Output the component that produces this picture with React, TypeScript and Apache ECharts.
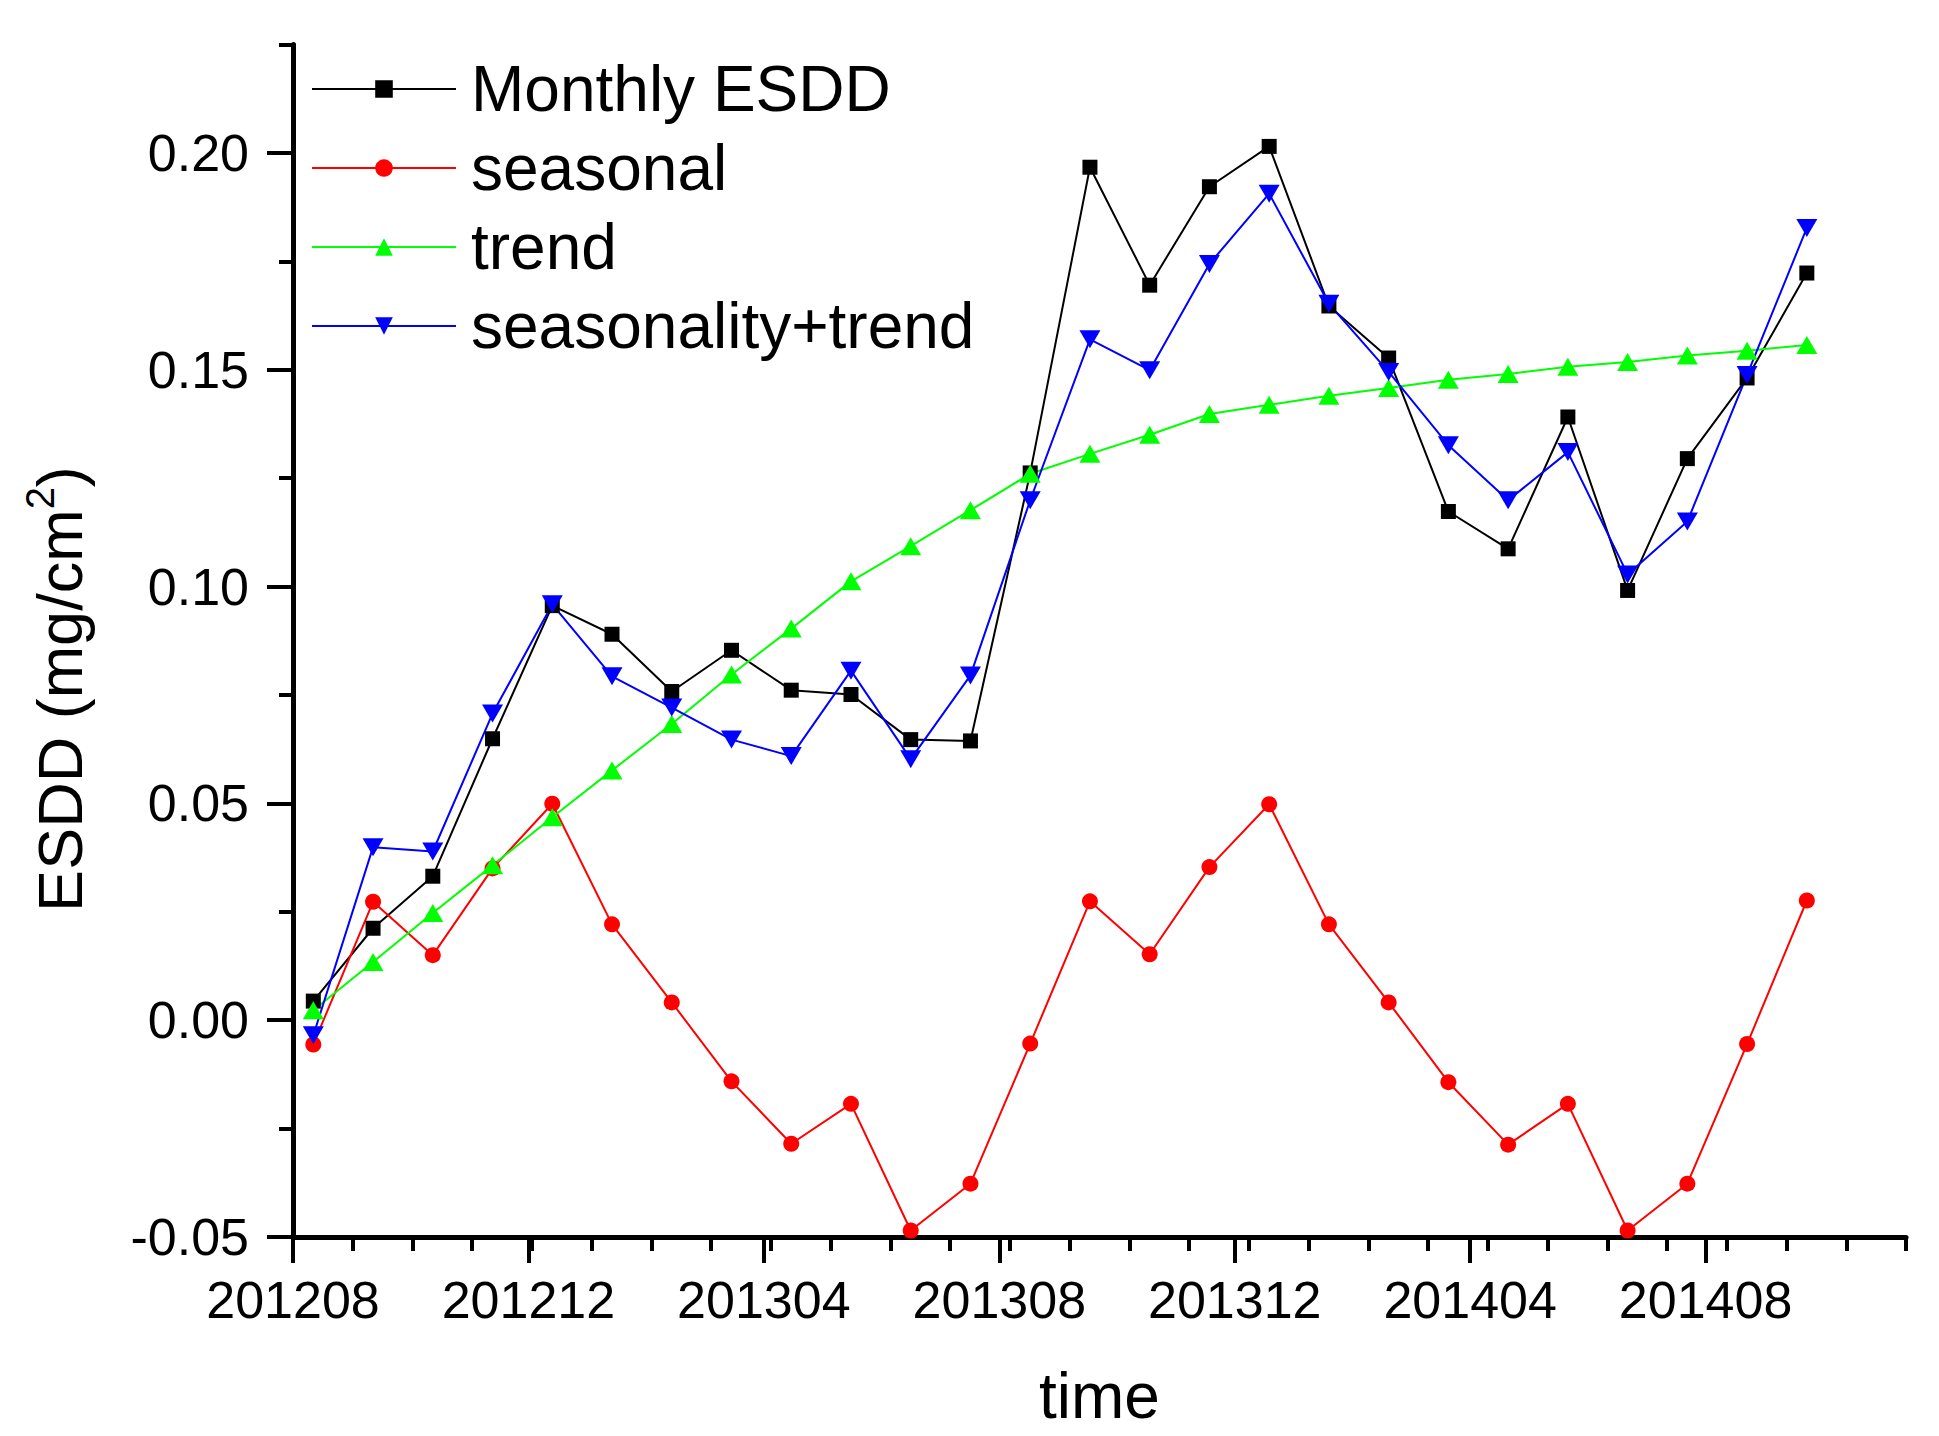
import React, { useEffect, useRef } from 'react';
import * as echarts from 'echarts';

// ---------- data ----------
const MONTHS = [
  '201208', '201209', '201210', '201211', '201212',
  '201301', '201302', '201303', '201304', '201305', '201306', '201307', '201308', '201309', '201310', '201311', '201312',
  '201401', '201402', '201403', '201404', '201405', '201406', '201407', '201408', '201409',
];
const TICK_LABELS = ['201208', '201212', '201304', '201308', '201312', '201404', '201408'];
const Y_MAJOR = [-0.05, 0, 0.05, 0.1, 0.15, 0.2];

const monthlyESDD = [
  0.0044, 0.0212, 0.0332, 0.0649, 0.0956, 0.0890, 0.0758, 0.0853, 0.0761, 0.0751, 0.0647, 0.0644, 0.1262,
  0.1967, 0.1695, 0.1922, 0.2015, 0.1647, 0.1527, 0.1173, 0.1087, 0.1391, 0.0991, 0.1295, 0.1481, 0.1723,
];
const seasonal = [
  -0.0056, 0.0273, 0.0150, 0.0350, 0.0499, 0.0221, 0.0041, -0.0141, -0.0285, -0.0193, -0.0485, -0.0377, -0.0054,
  0.0274, 0.0152, 0.0353, 0.0498, 0.0221, 0.0041, -0.0143, -0.0287, -0.0193, -0.0485, -0.0377, -0.0055, 0.0276,
];
const trend = [
  0.0023, 0.0134, 0.0247, 0.0357, 0.0468, 0.0576, 0.0683, 0.0797, 0.0903, 0.1012, 0.1093, 0.1176, 0.1260,
  0.1306, 0.1350, 0.1398, 0.1419, 0.1440, 0.1458, 0.1477, 0.1490, 0.1507, 0.1518, 0.1533, 0.1544, 0.1557,
];
const seasonalityTrend = [
  -0.0035, 0.0399, 0.0389, 0.0707, 0.0959, 0.0793, 0.0721, 0.0647, 0.0609, 0.0806, 0.0602, 0.0795, 0.1199,
  0.1570, 0.1499, 0.1744, 0.1906, 0.1652, 0.1495, 0.1326, 0.1199, 0.1310, 0.1028, 0.1150, 0.1488, 0.1827,
];

// ---------- layout constants ----------
const FF = '"Liberation Sans", Arial, sans-serif';
const X_OFFSET = 0.34; // data points sit a bit right of each monthly tick
const X_MAX = 27;
const MAJOR_STEP = 3.941;
const X_MAJOR = TICK_LABELS.map((_, i) => i * MAJOR_STEP);

const toPairs = (vals: number[]) => MONTHS.map((_, i) => [i + X_OFFSET, vals[i]]);

export default function App() {
  const ref = useRef<HTMLDivElement>(null);

  useEffect(() => {
    if (!ref.current) return;
    const chart = echarts.init(ref.current, null, { renderer: 'svg' });

    const baseSeries = (name: string, data: number[], color: string, symbol: string, size: any) => ({
      name,
      type: 'line',
      data: toPairs(data),
      xAxisIndex: 0,
      yAxisIndex: 0,
      symbol,
      symbolSize: size,
      showAllSymbol: true,
      lineStyle: { color, width: 2 },
      itemStyle: { color, borderWidth: 0 },
      emphasis: { disabled: true },
    });

    chart.setOption({
      animation: false,
      backgroundColor: '#ffffff',
      grid: { left: 293, right: 33, top: 44.5, bottom: 199, containLabel: false },
      legend: {
        orient: 'vertical',
        left: 311,
        top: 57,
        padding: 0,
        itemGap: 15,
        itemWidth: 144,
        itemHeight: 22,
        selectedMode: false,
        textStyle: { fontFamily: FF, fontSize: 64, color: '#000', lineHeight: 64, padding: [0, 0, 0, 10] },
        data: ['Monthly ESDD', 'seasonal', 'trend', 'seasonality+trend'],
      },
      xAxis: [
        {
          type: 'value',
          min: 0,
          max: X_MAX,
          interval: 1,
          position: 'bottom',
          axisLine: { show: true, onZero: false, lineStyle: { color: '#000', width: 5 } },
          axisTick: { show: true, length: 14, lineStyle: { color: '#000', width: 4 } },
          axisLabel: { show: false },
          splitLine: { show: false },
        },
        {
          type: 'value',
          min: 0,
          max: X_MAX,
          position: 'bottom',
          axisLine: { show: false, onZero: false },
          axisTick: { show: true, length: 26, customValues: X_MAJOR, lineStyle: { color: '#000', width: 4 } },
          axisLabel: {
            show: true,
            customValues: X_MAJOR,
            margin: 37,
            fontFamily: FF,
            fontSize: 52,
            color: '#000',
            formatter: (v: number) => TICK_LABELS[Math.round(v / MAJOR_STEP)] ?? '',
          },
          splitLine: { show: false },
          name: 'time',
          nameLocation: 'middle',
          nameGap: 127,
          nameTextStyle: { fontFamily: FF, fontSize: 64, color: '#000' },
        },
      ],
      yAxis: [
        {
          type: 'value',
          min: -0.05,
          max: 0.225,
          interval: 0.025,
          position: 'left',
          axisLine: { show: true, onZero: false, lineStyle: { color: '#000', width: 5 } },
          axisTick: { show: true, length: 14, lineStyle: { color: '#000', width: 4 } },
          axisLabel: { show: false },
          splitLine: { show: false },
        },
        {
          type: 'value',
          min: -0.05,
          max: 0.225,
          position: 'left',
          axisLine: { show: false, onZero: false },
          axisTick: { show: true, length: 26, customValues: Y_MAJOR, lineStyle: { color: '#000', width: 4 } },
          axisLabel: {
            show: true,
            customValues: Y_MAJOR,
            margin: 44,
            fontFamily: FF,
            fontSize: 52,
            color: '#000',
            formatter: (v: number) => v.toFixed(2),
          },
          splitLine: { show: false },
        },
      ],
      graphic: [
        {
          type: 'text',
          x: 60,
          y: 689,
          rotation: Math.PI / 2,
          style: {
            text: '{n|ESDD (mg/cm}{sup|2}{n|)}',
            align: 'center',
            verticalAlign: 'middle',
            fill: '#000',
            rich: {
              n: { fontFamily: FF, fontSize: 63, lineHeight: 80, fill: '#000' },
              sup: { fontFamily: FF, fontSize: 40, lineHeight: 40, verticalAlign: 'top', fill: '#000' },
            },
          },
        },
      ],
      series: [
        baseSeries('Monthly ESDD', monthlyESDD, '#000000', 'rect', 15),
        baseSeries('seasonal', seasonal, '#ff0000', 'circle', 16),
        baseSeries('trend', trend, '#00ff00', 'triangle', [21, 18]),
        baseSeries('seasonality+trend', seasonalityTrend, '#0000ff', 'path://M0,0L10,0L5,10Z', [21, 18]),
      ],
    });

    return () => chart.dispose();
  }, []);

  return (
    <div
      ref={ref}
      style={{ position: 'fixed', left: 0, top: 0, width: '1939px', height: '1436px', background: '#fff' }}
    />
  );
}
